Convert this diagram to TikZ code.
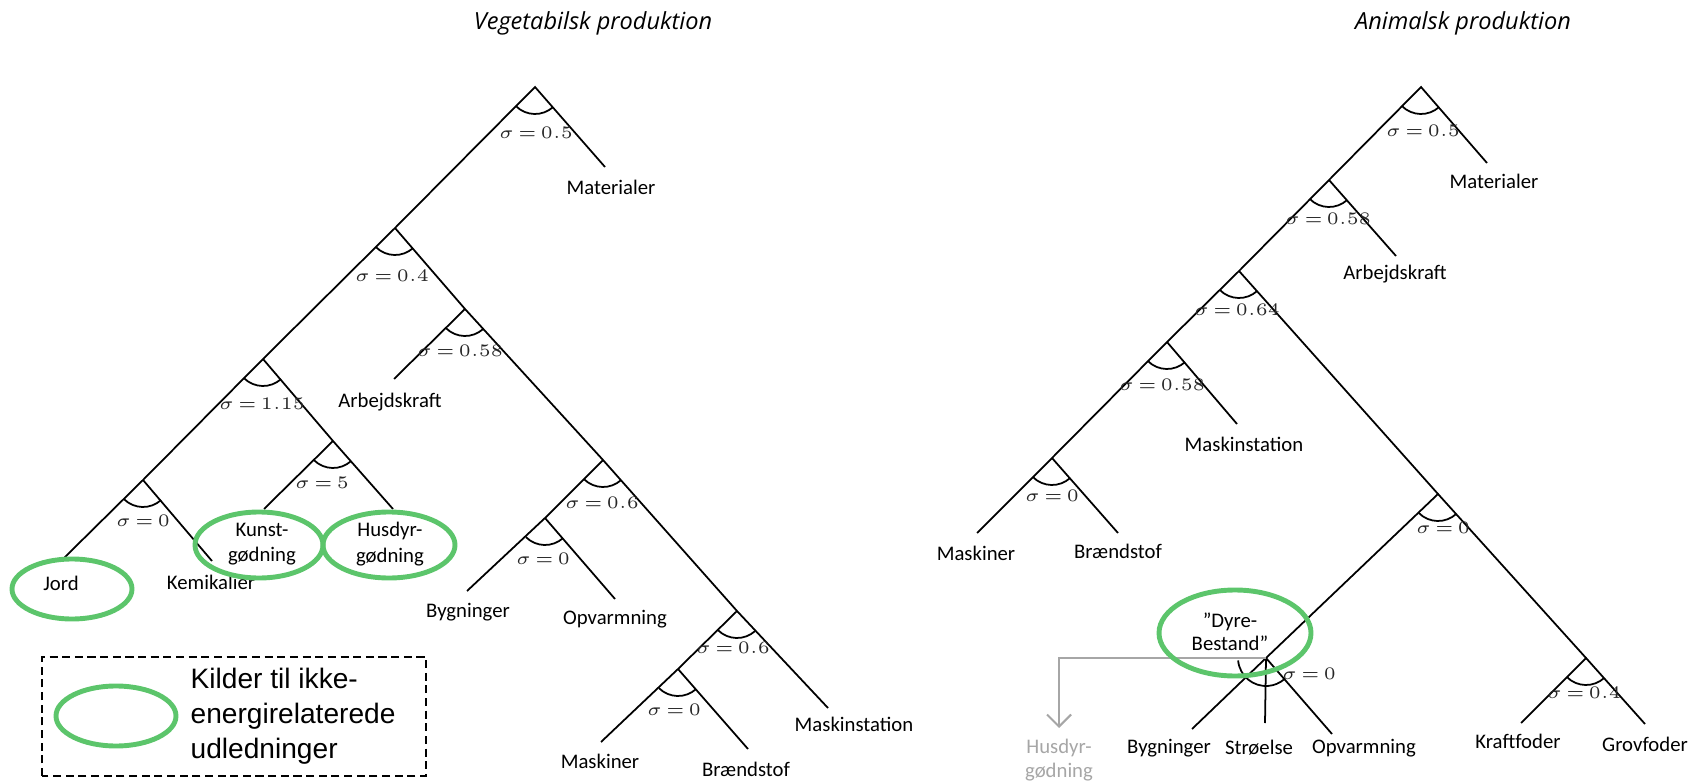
\documentclass[tikz,border=0pt]{standalone}
\usepackage{fontspec}
\setmainfont{Carlito}
\newfontfamily\headfont{Open Sans}
\newfontfamily\legendfont{Liberation Sans}
\usetikzlibrary{arrows.meta}
\definecolor{kgreen}{HTML}{5CC56B}
\definecolor{hgray}{HTML}{A6A6A6}
\newcommand{\sigmaval}[1]{$\sigma\mskip3mu{=}\mskip3mu#1$}

\begin{document}
\begin{tikzpicture}[
    every node/.style={inner sep=0pt},
    branch/.style={line width=0.5pt},
    leaf/.style={font=\fontsize{5.9}{7.3}\selectfont, align=center},
    sig/.style={font=\fontsize{5.3}{6}\selectfont, text=black!85},
    source/.style={draw=kgreen, line width=1.4pt},
    heading/.style={font=\headfont\itshape\fontsize{6.7}{8}\selectfont},
  ]

  % Canvas
  \useasboundingbox (0,0) rectangle (16.89,7.82);

  % Titles
  \node[heading] (tveg) at (5.93,7.59) {Vegetabilsk produktion};
  \node[heading] (tani) at (14.63,7.59) {Animalsk produktion};

  % Vegetabilsk: branch points and leaf ends
  \coordinate (vA) at (5.35,6.95);
  \coordinate (vB) at (3.95,5.54);
  \coordinate (vC) at (2.63,4.23);
  \coordinate (vD) at (4.65,4.73);
  \coordinate (vE) at (6.03,3.22);
  \coordinate (vF) at (5.45,2.64);
  \coordinate (vG) at (7.37,1.71);
  \coordinate (vH) at (6.78,1.13);
  \coordinate (vI) at (1.43,3.02);
  \coordinate (vJ) at (3.33,3.41);
  \coordinate (vmat) at (6.05,6.15);
  \coordinate (varb) at (3.94,4.03);
  \coordinate (vbyg) at (4.67,1.91);
  \coordinate (vopv) at (6.15,1.83);
  \coordinate (vmsk) at (6.01,0.40);
  \coordinate (vbrn) at (7.48,0.33);
  \coordinate (vmst) at (8.28,0.74);
  \coordinate (vjord) at (0.64,2.24);
  \coordinate (vkem) at (2.12,2.21);
  \coordinate (vkun) at (2.64,2.73);
  \coordinate (vhus) at (3.93,2.73);

  % Vegetabilsk: branches
  \draw[branch] (vmat) -- (vA) -- (vB) -- (vC) -- (vI) -- (vjord);
  \draw[branch] (vB) -- (vD) -- (vE) -- (vG) -- (vmst);
  \draw[branch] (vD) -- (varb);
  \draw[branch] (vE) -- (vF) -- (vbyg);
  \draw[branch] (vF) -- (vopv);
  \draw[branch] (vG) -- (vH) -- (vmsk);
  \draw[branch] (vH) -- (vbrn);
  \draw[branch] (vI) -- (vkem);
  \draw[branch] (vC) -- (vJ) -- (vhus);
  \draw[branch] (vJ) -- (vkun);

  % Vegetabilsk: sigma labels
  \node[sig] (sA) at (5.36,6.49) {\sigmaval{0.5}};
  \node[sig] (sB) at (3.92,5.06) {\sigmaval{0.4}};
  \node[sig] (sC) at (2.62,3.78) {\sigmaval{1.15}};
  \node[sig] (sD) at (4.60,4.31) {\sigmaval{0.58}};
  \node[sig] (sE) at (6.02,2.79) {\sigmaval{0.6}};
  \node[sig] (sF) at (5.43,2.23) {\sigmaval{0}};
  \node[sig] (sG) at (7.33,1.34) {\sigmaval{0.6}};
  \node[sig] (sH) at (6.74,0.72) {\sigmaval{0}};
  \node[sig] (sI) at (1.43,2.61) {\sigmaval{0}};
  \node[sig] (sJ) at (3.22,2.99) {\sigmaval{5}};

  % Vegetabilsk: inputs
  \node[leaf] (lmat) at (6.11,5.95) {Materialer};
  \node[leaf] (larb) at (3.90,3.80) {Arbejdskraft};
  \node[leaf] (lbyg) at (4.68,1.70) {Bygninger};
  \node[leaf] (lopv) at (6.15,1.63) {Opvarmning};
  \node[leaf] (lmsk) at (6.00,0.21) {Maskiner};
  \node[leaf] (lbrn) at (7.46,0.13) {Brændstof};
  \node[leaf] (lmst) at (8.54,0.58) {Maskinstation};
  \node[leaf] (ljord) at (0.61,1.99) {Jord};
  \node[leaf] (lkem) at (2.11,2.00) {Kemikalier};
  \node[leaf] (lkun) at (2.62,2.38) {Kunst-\\gødning};
  \node[leaf] (lhus) at (3.90,2.38) {Husdyr-\\gødning};

  % Animalsk: branch points and leaf ends
  \coordinate (wA) at (14.21,6.95);
  \coordinate (wB) at (13.29,6.02);
  \coordinate (wC) at (12.39,5.11);
  \coordinate (wD) at (11.67,4.40);
  \coordinate (wE) at (10.52,3.24);
  \coordinate (wF) at (14.38,2.88);
  \coordinate (wG) at (12.66,1.24);
  \coordinate (wH) at (15.86,1.24);
  \coordinate (wmat) at (14.87,6.19);
  \coordinate (warb) at (13.96,5.26);
  \coordinate (wmst) at (12.37,3.58);
  \coordinate (wmsk) at (9.77,2.49);
  \coordinate (wbrn) at (11.18,2.49);
  \coordinate (wbyg) at (11.92,0.53);
  \coordinate (wstr) at (12.65,0.59);
  \coordinate (wopv) at (13.32,0.48);
  \coordinate (wkra) at (15.21,0.59);
  \coordinate (wgro) at (16.45,0.58);
  \coordinate (whusend) at (10.59,0.54);

  % Animalsk: branches
  \draw[branch] (wmat) -- (wA) -- (wB) -- (wC) -- (wD) -- (wE) -- (wmsk);
  \draw[branch] (wB) -- (warb);
  \draw[branch] (wD) -- (wmst);
  \draw[branch] (wE) -- (wbrn);
  \draw[branch] (wC) -- (wF) -- (wG) -- (wbyg);
  \draw[branch] (wG) -- (wstr);
  \draw[branch] (wG) -- (wopv);
  \draw[branch] (wF) -- (wH) -- (wkra);
  \draw[branch] (wH) -- (wgro);

  % Manure leaves the herd
  \draw[hgray, line width=0.6pt, -{Straight Barb[length=1.2mm, width=2.4mm]}]
    (wG) -| (whusend);

  % Animalsk: sigma labels
  \node[sig] (tA) at (14.23,6.51) {\sigmaval{0.5}};
  \node[sig] (tB) at (13.28,5.63) {\sigmaval{0.58}};
  \node[sig] (tC) at (12.37,4.72) {\sigmaval{0.64}};
  \node[sig] (tD) at (11.62,3.97) {\sigmaval{0.58}};
  \node[sig] (tE) at (10.52,2.86) {\sigmaval{0}};
  \node[sig] (tF) at (14.43,2.54) {\sigmaval{0}};
  \node[sig] (tG) at (13.09,1.08) {\sigmaval{0}};
  \node[sig] (tH) at (15.84,0.89) {\sigmaval{0.4}};

  % Animalsk: inputs
  \node[leaf] (mmat) at (14.94,6.01) {Materialer};
  \node[leaf] (marb) at (13.95,5.08) {Arbejdskraft};
  \node[leaf] (mmst) at (12.44,3.38) {Maskinstation};
  \node[leaf] (mmsk) at (9.76,2.29) {Maskiner};
  \node[leaf] (mbrn) at (11.18,2.31) {Brændstof};
  \node[leaf] (mbyg) at (11.69,0.34) {Bygninger};
  \node[leaf] (mstr) at (12.59,0.34) {Strøelse};
  \node[leaf] (mopv) at (13.64,0.34) {Opvarmning};
  \node[leaf] (mkra) at (15.18,0.41) {Kraftfoder};
  \node[leaf] (mgro) at (16.45,0.38) {Grovfoder};
  \node[leaf, font=\fontsize{5.9}{6.6}\selectfont] (mdyr) at (12.30,1.50) {”Dyre-\\Bestand”};
  \node[leaf, font=\fontsize{5.9}{6.6}\selectfont, text=hgray] (mhus) at (10.59,0.22) {Husdyr-\\gødning};

  % Elasticity arcs
  \foreach \n in {vA,vB,vC,vD,vE,vF,vG,vH,vI,vJ,wA,wB,wC,wD,wE,wF,wH}
    \draw[branch] ([shift={(225:0.27)}]\n) arc[start angle=225, end angle=312, radius=0.27];
  \draw[branch] ([shift={(185:0.28)}]wG) arc[start angle=185, end angle=310, radius=0.28];

  % Non-energy emission sources
  \draw[source] (0.72,1.93) ellipse [x radius=0.60, y radius=0.30];
  \draw[source] (2.59,2.37) ellipse [x radius=0.64, y radius=0.33];
  \draw[source] (3.89,2.37) ellipse [x radius=0.66, y radius=0.33];
  \draw[source] (12.35,1.49) ellipse [x radius=0.76, y radius=0.43];

  % Legend
  \draw[line width=0.5pt, dash pattern=on 2.3pt off 1.3pt] (0.42,0.06) rectangle (4.26,1.25);
  \draw[source] (1.16,0.66) ellipse [x radius=0.60, y radius=0.30];
  \node[font=\legendfont\fontsize{8}{9.9}\selectfont, align=left, anchor=west] (legtxt)
    at (1.90,0.66) {Kilder til ikke-\\energirelaterede\\udledninger};

\end{tikzpicture}
\end{document}
